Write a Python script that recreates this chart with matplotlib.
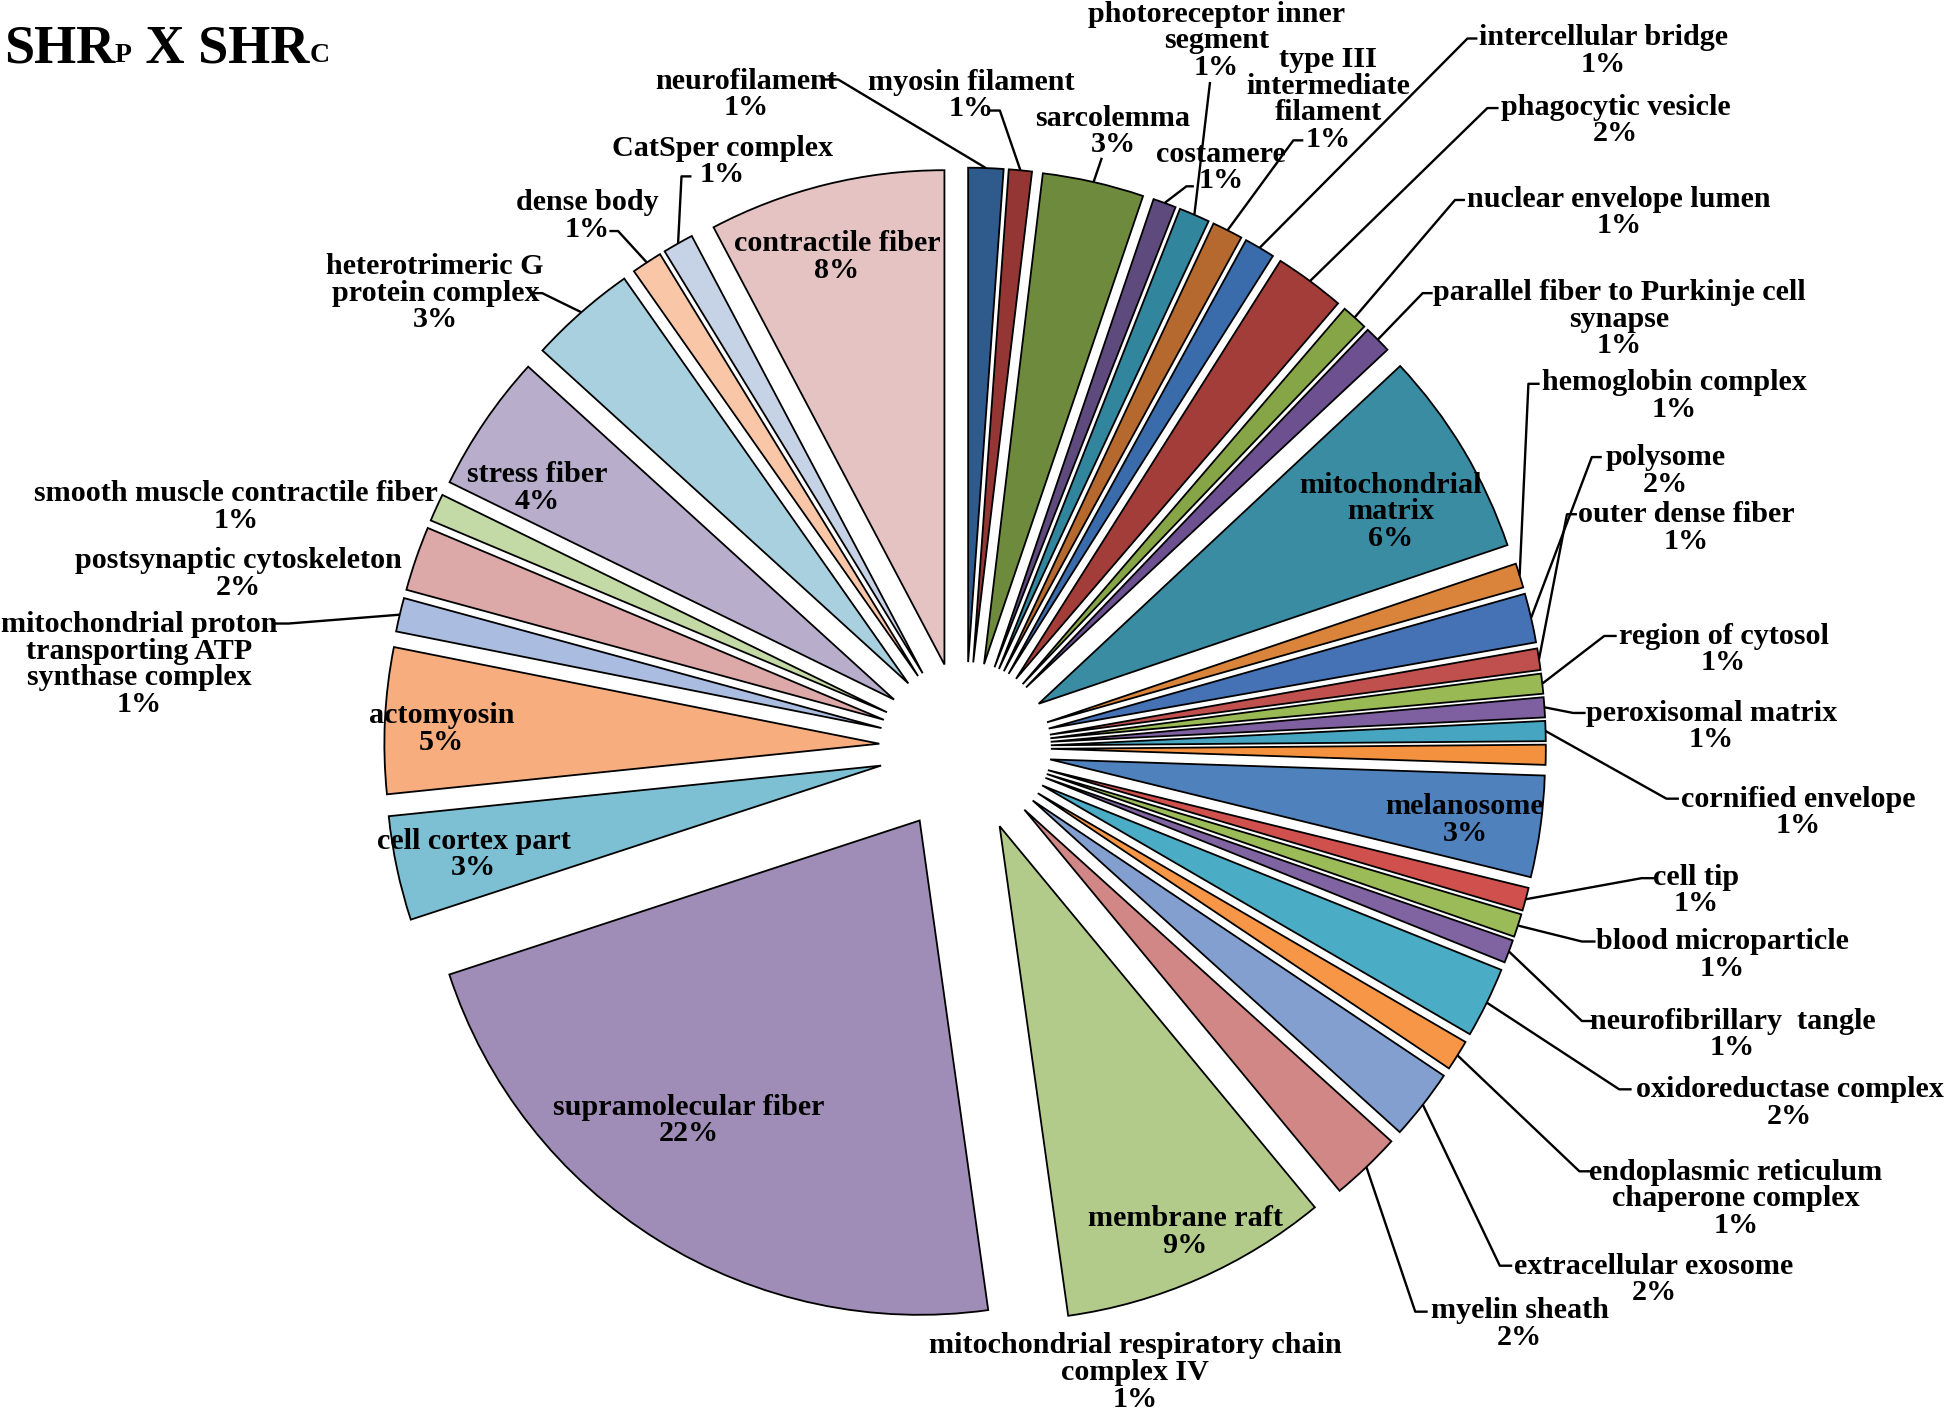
import matplotlib
matplotlib.use("Agg")
import matplotlib.pyplot as plt
import numpy as np

# ---------------- data (slice order, clockwise from 12 o'clock) ----------------
categories = [
    "neurofilament", "myosin filament", "sarcolemma", "costamere",
    "photoreceptor inner\nsegment", "type III\nintermediate\nfilament",
    "intercellular bridge", "phagocytic vesicle", "nuclear envelope lumen",
    "parallel fiber to Purkinje cell\nsynapse", "mitochondrial\nmatrix",
    "hemoglobin complex", "polysome", "outer dense fiber", "region of cytosol",
    "peroxisomal matrix", "cornified envelope",
    "mitochondrial respiratory chain\ncomplex IV", "melanosome", "cell tip",
    "blood microparticle", "neurofibrillary  tangle", "oxidoreductase complex",
    "endoplasmic reticulum\nchaperone complex", "extracellular exosome",
    "myelin sheath", "membrane raft", "supramolecular fiber", "cell cortex part",
    "actomyosin", "mitochondrial proton\ntransporting ATP\nsynthase complex",
    "postsynaptic cytoskeleton", "smooth muscle contractile fiber",
    "stress fiber", "heterotrimeric G\nprotein complex", "dense body",
    "CatSper complex", "contractile fiber",
]
percent_labels = [1, 1, 3, 1, 1, 1, 1, 2, 1, 1, 6, 1, 2, 1, 1, 1, 1, 1, 3, 1,
                  1, 1, 2, 1, 2, 2, 9, 22, 3, 5, 1, 2, 1, 4, 3, 1, 1, 8]
values = [1.14, 0.75, 3.3, 0.75, 1.0, 1.0, 1.0, 2.3, 0.85, 0.9, 6.75, 0.8,
          1.6, 0.7, 0.65, 0.65, 0.65, 0.65, 3.3, 0.75, 0.75, 0.75, 2.3, 1.0,
          2.3, 2.3, 8.75, 22.1, 3.4, 4.75, 1.1, 2.1, 0.9, 4.5, 3.5, 1.0, 1.0,
          7.7]
colors = [
    "#2E5A8C", "#943634", "#6E8B3D", "#5F4A7E", "#31859C", "#B5692E",
    "#3A6BAA", "#A23D3A", "#86A546", "#6C5090", "#3A8CA3", "#D9843A",
    "#4472B5", "#C0504D", "#98B954", "#7E5FA0", "#46A6C2", "#F3913F",
    "#4F81BD", "#D0504D", "#9BBB59", "#8064A2", "#4BACC6", "#F79646",
    "#839FCF", "#D08785", "#B3CB8A", "#9F8DB7", "#7EC0D3", "#F8AD7E",
    "#AABCE0", "#DDA9A8", "#C4DAA6", "#B8AECC", "#A9D0DF", "#F9C6A8",
    "#C6D2E6", "#E6C3C3",
]

# ---------------- layout (pixel grid of 1568 x 1140, y measured downwards) ----------------
W, H = 1568, 1140
CX, CY, R, EXPL = 776, 602, 398, 69

# label block centres
label_pos = {
    0: (600, 76), 1: (781, 77), 2: (895, 106), 3: (982, 135), 4: (978, 33),
    5: (1068, 80), 6: (1289, 41), 7: (1299, 97), 8: (1302, 171),
    9: (1302, 257), 10: (1118, 412), 11: (1346, 319), 12: (1339, 379),
    13: (1356, 425), 14: (1386, 523), 15: (1376, 585), 16: (1446, 654),
    17: (913, 1105), 18: (1178, 660), 19: (1364, 717), 20: (1385, 769),
    21: (1393, 833), 22: (1439, 888), 23: (1396, 965), 24: (1330, 1030),
    25: (1222, 1066), 26: (953, 992), 27: (554, 902), 28: (381, 688),
    29: (355, 587), 30: (112, 535), 31: (192, 462), 32: (190, 408),
    33: (432, 393), 34: (350, 236), 35: (472, 174), 36: (581, 130),
    37: (673, 207),
}
# label-side points of the leader lines
leaders = {
    0: [(662, 64), (674, 64)], 1: [(796, 89), (804, 89)], 2: [(886, 127)],
    3: [(960, 150), (954, 150)], 4: [(973, 66)], 5: [(1048, 113), (1040, 113)],
    6: [(1188, 31), (1180, 31)], 7: [(1205, 87), (1196, 87)],
    8: [(1178, 161), (1170, 161)], 9: [(1152, 236), (1144, 236)],
    11: [(1238, 309), (1229, 309)], 12: [(1288, 368), (1280, 368)],
    13: [(1268, 414), (1260, 414)], 14: [(1300, 512), (1290, 512)],
    15: [(1275, 574), (1265, 574)], 16: [(1350, 643), (1340, 643)],
    19: [(1330, 707), (1320, 707)], 20: [(1283, 758), (1272, 758)],
    21: [(1281, 822), (1272, 822)], 22: [(1312, 877), (1302, 877)],
    23: [(1280, 943), (1270, 943)], 24: [(1216, 1019), (1206, 1019)],
    25: [(1148, 1056), (1138, 1056)], 30: [(220, 502), (232, 502)],
    34: [(428, 236), (436, 236)], 35: [(490, 186), (497, 186)],
    36: [(556, 142), (548, 142)],
}

FONT = "Liberation Serif"
FS = 21.7

fig = plt.figure(figsize=(19.5, 14.16), dpi=100)
ax = fig.add_axes([0, 0, 1, 1])

wedges, _ = ax.pie(values, colors=colors, startangle=90, counterclock=False,
                   radius=R, center=(CX, H - CY), explode=[EXPL] * len(values),
                   wedgeprops=dict(edgecolor="black", linewidth=1.3),
                   frame=False)
ax.set_xlim(0, W)
ax.set_ylim(0, H)
ax.set_aspect("auto")
ax.axis("off")

for i, name in enumerate(categories):
    x, y = label_pos[i]
    ax.text(x, H - y, f"{name}\n{percent_labels[i]}%", ha="center", va="center",
            multialignment="center", family=FONT, fontweight="bold",
            fontsize=FS, linespacing=0.98, zorder=5)
    if i in leaders:
        w = wedges[i]
        tm = np.deg2rad(0.5 * (w.theta1 + w.theta2))
        ex = w.center[0] + R * np.cos(tm)
        ey = w.center[1] + R * np.sin(tm)
        pts = [(px, H - py) for px, py in leaders[i]] + [(ex, ey)]
        xs, ys = zip(*pts)
        ax.plot(xs, ys, color="black", lw=1.7, zorder=4,
                solid_capstyle="butt")

# title "SHRp X SHRc" with small letters
fig.canvas.draw()
renderer = fig.canvas.get_renderer()
pieces = [("SHR", 39), ("P", 20), (" X SHR", 39), ("C", 20)]
xpos = 3
for txt, size in pieces:
    t = ax.text(xpos, H - 50, txt, family=FONT, fontweight="bold",
                fontsize=size, ha="left", va="baseline")
    bb = t.get_window_extent(renderer=renderer)
    xpos = ax.transData.inverted().transform((bb.x1, bb.y0))[0]

fig.savefig("out.png", dpi=100)
